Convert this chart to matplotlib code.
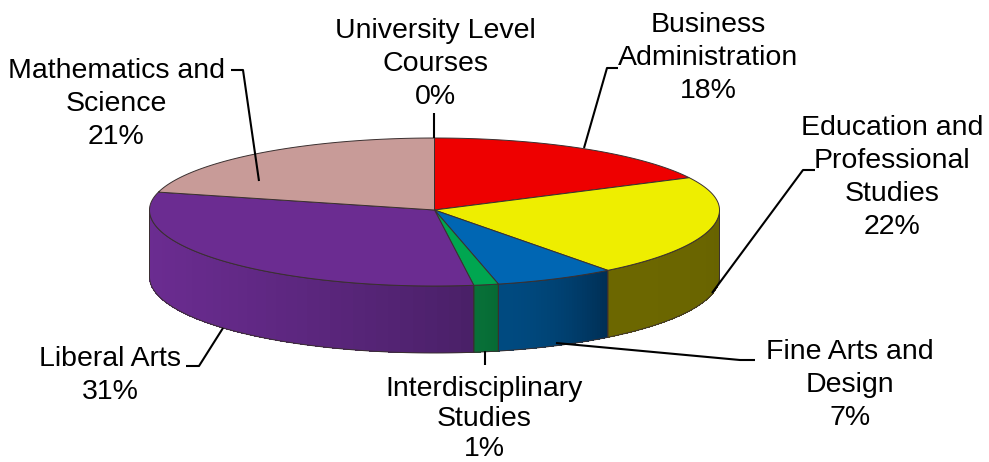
import matplotlib
matplotlib.use("Agg")
import matplotlib.pyplot as plt
import numpy as np
from matplotlib.colors import to_rgb
from matplotlib.patches import Polygon

plt.rcParams["font.family"] = ["Liberation Sans", "DejaVu Sans"]

# clockwise from 12 o'clock, labels show the rounded share
categories = [
    "Business\nAdministration",
    "Education and\nProfessional\nStudies",
    "Fine Arts and\nDesign",
    "Interdisciplinary\nStudies",
    "Liberal Arts",
    "Mathematics and\nScience",
    "University Level\nCourses",
]
shares = [17.6, 22.0, 6.8, 1.4, 31.2, 21.0, 0.0]
top_colors = ["#ee0000", "#eeee00", "#0066b3", "#00a650", "#6b2c91", "#c89b98", "#c89b98"]
side_start = ["#ee0000", "#6c6700", "#004a80", "#087038", "#6b2c91", "#c89b98", "#c89b98"]
side_end = ["#ee0000", "#676200", "#002f55", "#066a34", "#4a2068", "#c89b98", "#c89b98"]

# label anchor (centre x, top y) and leader polyline, in pixels
label_pos = [(708, 12), (892, 115), (850, 339), (484, 376), (110, 346), (116, 58), (435, 18)]
# the interdisciplinary label runs down to the bottom edge, so it sits tighter
label_spacing = [1.345, 1.345, 1.345, 1.2, 1.345, 1.345, 1.345]
leaders = [
    [(584, 148), (607, 68), (618, 68)],
    [(712, 293), (803, 170), (815, 170)],
    [(556, 343), (740, 360), (755, 360)],
    [(485, 351), (485, 365)],
    [(223, 328), (199, 366), (186, 366)],
    [(259, 181), (243, 70), (231, 70)],
    [(434, 113), (434, 138)],
]

CX, CY = 434.5, 210
RX, RY_UP, RY_DOWN = 285, 72, 76
DEPTH = 67
EDGE = "#3a3030"


def rim(angle):
    # angle in radians, clockwise from the top of the ellipse
    angle = np.asarray(angle, dtype=float)
    c = np.cos(angle)
    y = CY - c * np.where(c > 0, RY_UP, RY_DOWN)
    return CX + RX * np.sin(angle), y


fig = plt.figure(figsize=(9.89, 4.62), dpi=100)
ax = fig.add_axes([0, 0, 1, 1])
ax.set_xlim(0, 989)
ax.set_ylim(462, 0)
ax.axis("off")

edges = np.cumsum([0] + shares) / sum(shares) * 2 * np.pi

# side walls, only the front half of the rim shows
for i in range(len(shares)):
    a0, a1 = max(edges[i], np.pi / 2), min(edges[i + 1], 3 * np.pi / 2)
    if a1 <= a0:
        continue
    # the walls get darker towards the right, so walk from left to right
    steps = np.linspace(a1, a0, 41)
    c0, c1 = np.array(to_rgb(side_start[i])), np.array(to_rgb(side_end[i]))
    for j in range(40):
        t = np.linspace(steps[j], steps[j + 1], 4)
        x, y = rim(t)
        pts = np.column_stack([np.r_[x, x[::-1]], np.r_[y, y[::-1] + DEPTH]])
        ax.add_patch(Polygon(pts, closed=True, facecolor=c0 + (c1 - c0) * (j / 39) ** 1.8,
                             edgecolor="none", antialiased=False, zorder=1))
    x, y = rim(np.linspace(a0, a1, 80))
    pts = np.column_stack([np.r_[x, x[::-1]], np.r_[y, y[::-1] + DEPTH]])
    ax.add_patch(Polygon(pts, closed=True, facecolor="none", edgecolor=EDGE, linewidth=0.7, zorder=2))

# top faces
for i in range(len(shares)):
    if shares[i] == 0:
        continue
    x, y = rim(np.linspace(edges[i], edges[i + 1], 120))
    pts = np.column_stack([np.r_[CX, x], np.r_[CY, y]])
    ax.add_patch(Polygon(pts, closed=True, facecolor=top_colors[i], edgecolor=EDGE, linewidth=0.7, zorder=3))

for line in leaders:
    xs, ys = zip(*line)
    ax.plot(xs, ys, color="black", linewidth=1.5, solid_capstyle="butt", zorder=4)

for name, share, (x, y), spacing in zip(categories, shares, label_pos, label_spacing):
    ax.text(x, y, f"{name}\n{share:.0f}%", ha="center", va="top", fontsize=20.5,
            linespacing=spacing, color="black", zorder=5)

fig.savefig("out.png", dpi=100)
